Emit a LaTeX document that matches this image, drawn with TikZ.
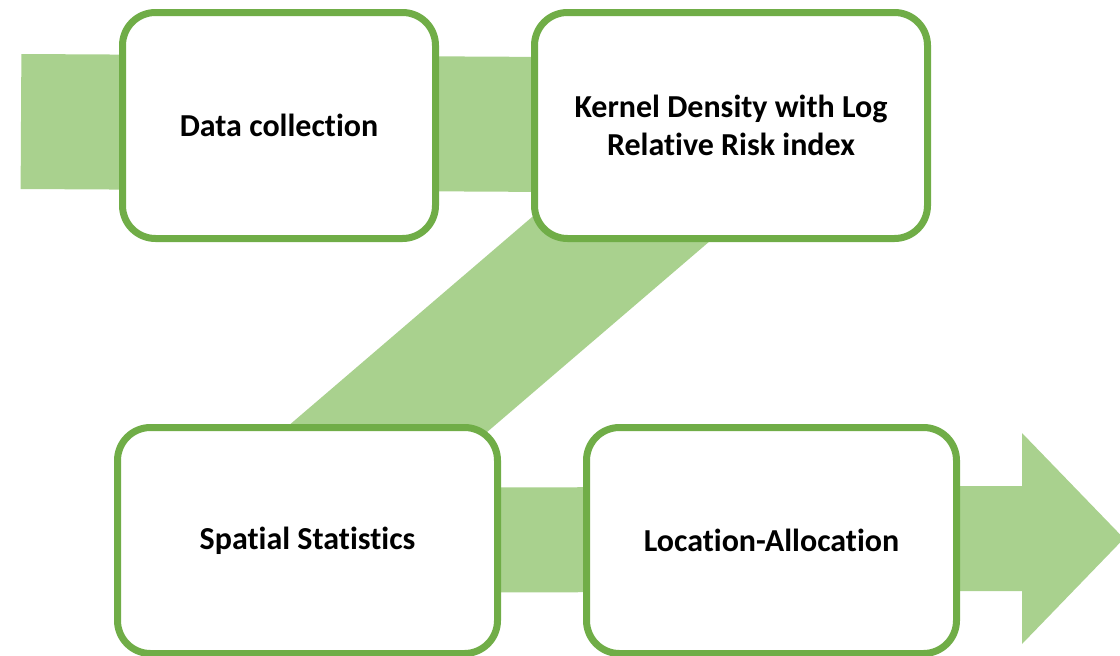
\documentclass[tikz,border=0pt]{standalone}
\usepackage{fontspec}
\setmainfont{Carlito}[RawFeature={-liga}]
\pgfdeclarelayer{background}
\pgfsetlayers{background,main}
\definecolor{boxgreen}{HTML}{70AD47}
\definecolor{bandgreen}{HTML}{A9D18E}

\begin{document}
\begin{tikzpicture}[x=1pt,y=-1pt,
  stepbox/.style={draw=boxgreen, line width=7pt, fill=white,
    rounded corners=33pt, inner sep=0pt, outer sep=0pt,
    minimum height=226pt, align=center,
    font=\fontsize{32}{38}\selectfont\bfseries},
  band/.style={draw=bandgreen, line cap=butt}]
\useasboundingbox (0,0) rectangle (1120,656);

% process steps
\node[stepbox, minimum width=313pt] (s1) at (279,125.5) {Data collection};
\node[stepbox, minimum width=393pt] (s2) at (731,125.5) {Kernel Density with Log\\Relative Risk index};
\node[stepbox, minimum width=380pt] (s3) at (307.5,540.5) {Spatial Statistics};
\node[stepbox, minimum width=370pt] (s4) at (771.5,540.5) {Location-Allocation};

% flow band behind the steps
\begin{pgfonlayer}{background}
  \coordinate (start) at (21,121.5);
  \draw[band, line width=135pt] (start) -- (s2.center);
  \coordinate (d1) at (741.8,125.5);
  \coordinate (d2) at (257.5,540.5);
  \draw[band, line width=134pt] (d1) -- (d2);
  \coordinate (headbase) at (1022,538.5);
  \draw[band, line width=105pt] (s3.center) -- (headbase);
  \fill[bandgreen] (1022,433) -- (1124,538.5) -- (1022,644) -- cycle;
\end{pgfonlayer}
\end{tikzpicture}
\end{document}
